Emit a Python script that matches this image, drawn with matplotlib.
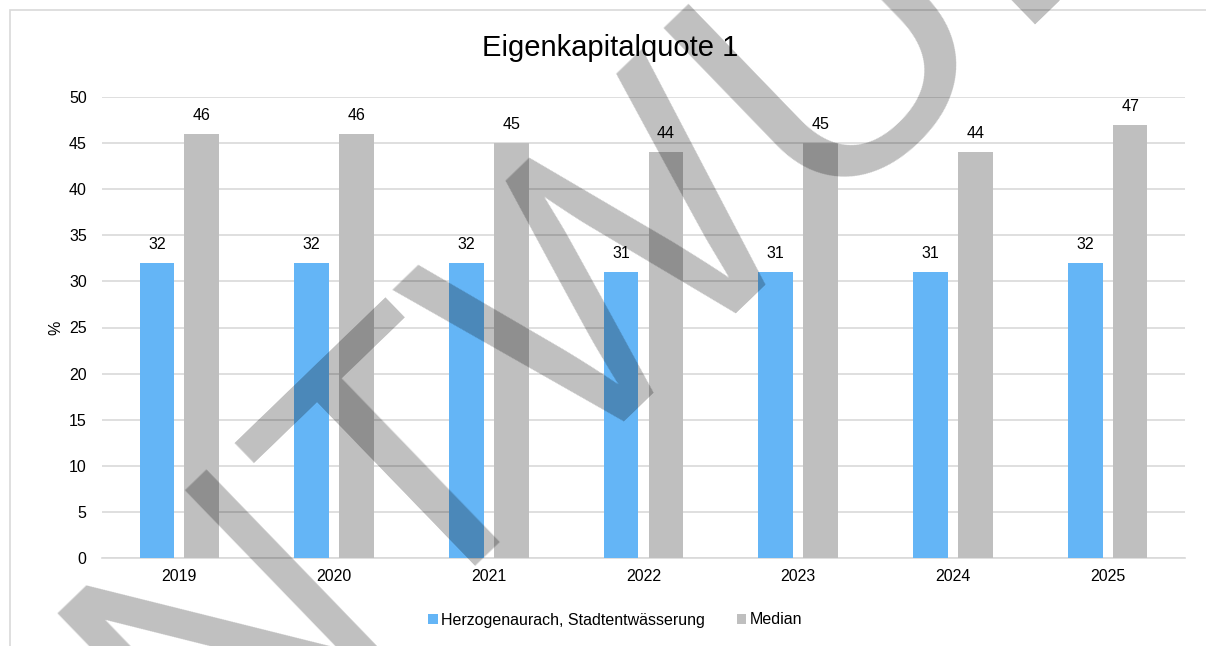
import numpy as np
import matplotlib.pyplot as plt
from matplotlib.patches import Rectangle

plt.rcParams['font.family'] = ['Liberation Sans', 'DejaVu Sans']

years = ['2019', '2020', '2021', '2022', '2023', '2024', '2025']
stadt = [32, 32, 32, 31, 31, 31, 32]
median = [46, 46, 45, 44, 45, 44, 47]

blue = '#64B5F6'
grey = '#BFBFBF'

fig = plt.figure(figsize=(12.06, 6.46), dpi=100)
# outer chart frame (only left and top edges visible in the crop)
fig.patches.append(Rectangle((10 / 1206, -0.1), 1.2, 1.1 - 10 / 646,
                             transform=fig.transFigure, fill=False,
                             edgecolor='#D9D9D9', linewidth=1.2))

ax = fig.add_axes([102 / 1206, 1 - 558 / 646, (1185 - 102) / 1206, (558 - 97) / 646])
x = np.arange(len(years))
w = 0.225
b1 = ax.bar(x - 0.145, stadt, w, color=blue, label='Herzogenaurach, Stadtentwässerung', zorder=3)
b2 = ax.bar(x + 0.145, median, w, color=grey, label='Median', zorder=3)
for bars in (b1, b2):
    ax.bar_label(bars, padding=8, fontsize=11.5, color='#000000')

ax.set_xlim(-0.5, len(years) - 0.5)
ax.set_ylim(0, 50)
ax.set_yticks(range(0, 51, 5))
ax.set_xticks(x, years)
ax.grid(axis='y', color='#D9D9D9', linewidth=1.2, zorder=0)
for s in ax.spines.values():
    s.set_visible(False)
ax.spines['bottom'].set_visible(True)
ax.spines['bottom'].set_color('#D9D9D9')
ax.spines['bottom'].set_linewidth(1.2)
ax.tick_params(length=0, labelsize=11.5, colors='#000000', pad=8)
ax.tick_params(axis='y', pad=11)
ax.set_ylabel('%', fontsize=11.5, labelpad=4)

fig.text(610 / 1206, 1 - 48 / 646, 'Eigenkapitalquote 1', ha='center', va='center', fontsize=21)
fig.legend(loc='center', bbox_to_anchor=(0.51, 1 - 620 / 646), ncol=2, frameon=False,
           fontsize=11.5, handlelength=0.6, handleheight=0.6, handletextpad=0.2,
           columnspacing=2.0)

# draft watermark
fig.text(28 / 1206, 1 - 968 / 646, 'ENTWURF', rotation=44, rotation_mode='anchor',
         ha='left', va='baseline', fontsize=267, color='black', alpha=0.25, zorder=10)

fig.savefig('out.png', dpi=100)
